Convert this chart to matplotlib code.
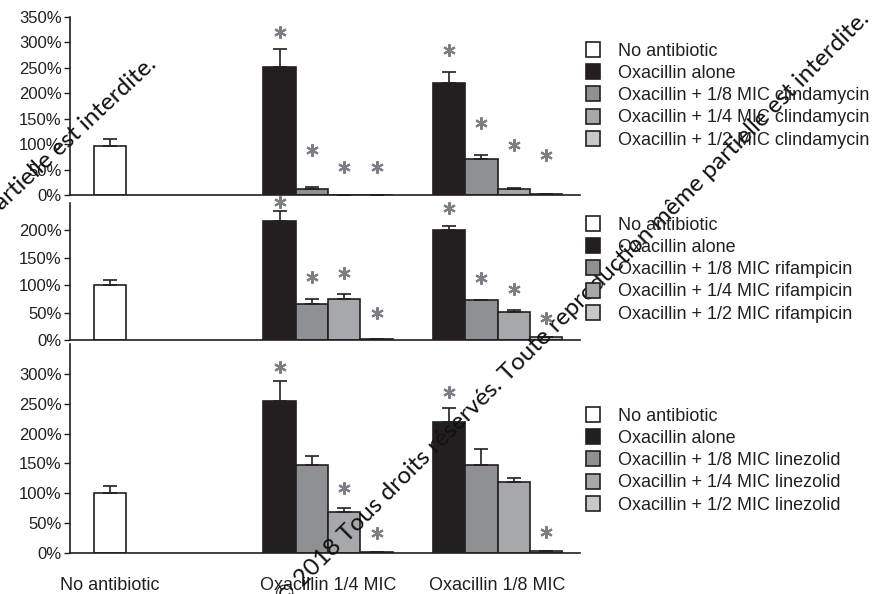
import matplotlib
matplotlib.use("Agg")
import matplotlib.pyplot as plt
from matplotlib.patches import Patch
import numpy as np

plt.rcParams['font.family'] = ['Liberation Sans', 'DejaVu Sans']

# ---------------- data ----------------
group_labels = ["No antibiotic", "Oxacillin 1/4 MIC", "Oxacillin 1/8 MIC"]
drugs = ["clindamycin", "rifampicin", "linezolid"]
series_names = ["Oxacillin alone", "Oxacillin + 1/8 MIC", "Oxacillin + 1/4 MIC", "Oxacillin + 1/2 MIC"]

# "No antibiotic" bar per panel (value, upper error)
noab_vals = [96, 100, 100]
noab_errs = [14, 10, 12]

# per panel: rows = series (alone, 1/8, 1/4, 1/2), cols = (Oxa 1/4 MIC, Oxa 1/8 MIC)
clinda_vals = [[251, 220], [12, 71], [0, 12], [0, 2]]
clinda_errs = [[36, 21], [3, 7], [0, 1], [0, 0]]
rifam_vals = [[218, 201], [66, 73], [75, 51], [2, 5]]
rifam_errs = [[18, 7], [9, 0], [9, 3], [0, 1]]
linez_vals = [[255, 219], [147, 147], [69, 119], [1, 3]]
linez_errs = [[33, 24], [15, 27], [7, 6], [0, 1]]

# significance asterisks: height (in % units) or None
clinda_stars = [[320, 285], [88, 141], [55, 98], [55, 79]]
rifam_stars = [[252, 241], [115, 113], [122, 93], [49, 40]]
linez_stars = [[312, 270], [None, None], [109, None], [34, 35]]

y_ticks = [[0, 50, 100, 150, 200, 250, 300, 350],
           [0, 50, 100, 150, 200],
           [0, 50, 100, 150, 200, 250, 300]]
y_max = [350, 250, 350]

# ---------------- style ----------------
colors = ["#ffffff", "#231f20", "#8e9093", "#a6a8ab", "#c6c8ca"]
edge = "#231f20"
star_color = "#7d7e85"
txt = "#231f20"

fig = plt.figure(figsize=(8.75, 5.94), dpi=100)
W, H = 875.0, 594.0
# axes boxes in pixels: (top, bottom)
boxes = [(17, 195), (203, 340), (344, 553)]
left_px, right_px = 70, 580

noab_x = 0.0
group_base = [5.25, 10.5]

panels = [
    (clinda_vals, clinda_errs, clinda_stars),
    (rifam_vals, rifam_errs, rifam_stars),
    (linez_vals, linez_errs, linez_stars),
]
legend_tops = [42, 216, 407]

for p, ((vals, errs, stars), (top, bot)) in enumerate(zip(panels, boxes)):
    ax = fig.add_axes([left_px / W, 1 - bot / H, (right_px - left_px) / W, (bot - top) / H])
    ax.set_facecolor("none")
    handles = []
    ax.bar([noab_x], [noab_vals[p]], width=1.0, color=colors[0], edgecolor=edge,
           linewidth=1.2, yerr=[[0], [noab_errs[p]]], capsize=5,
           error_kw=dict(ecolor=edge, elinewidth=1.2, capthick=1.2), zorder=2)
    handles.append(Patch(facecolor=colors[0], edgecolor=edge, linewidth=1.2))
    for s in range(4):
        xs = [group_base[g] + s for g in range(2)]
        ax.bar(xs, vals[s], width=1.0, color=colors[s + 1], edgecolor=edge, linewidth=1.2,
               yerr=[[0, 0], errs[s]], capsize=5,
               error_kw=dict(ecolor=edge, elinewidth=1.2, capthick=1.2), zorder=2)
        handles.append(Patch(facecolor=colors[s + 1], edgecolor=edge, linewidth=1.2))
        for g in range(2):
            if stars[s][g] is not None:
                ax.plot([xs[g]], [stars[s][g]], linestyle="none", marker=(6, 2, 0),
                        ms=9, mew=1.5, color=star_color, clip_on=False, zorder=5)
    ax.set_xlim(-1.24, 14.55)
    ax.set_ylim(0, y_max[p])
    ax.set_yticks(y_ticks[p])
    ax.set_yticklabels([f"{t}%" for t in y_ticks[p]])
    ax.tick_params(axis="y", direction="out", length=4, width=1, labelsize=12,
                   colors=txt, pad=2)
    for sp in ["top", "right"]:
        ax.spines[sp].set_visible(False)
    for sp in ["left", "bottom"]:
        ax.spines[sp].set_linewidth(1.2)
        ax.spines[sp].set_color(edge)
    if p == 2:
        ax.set_xticks([noab_x, group_base[0] + 1.5, group_base[1] + 1.5])
        ax.set_xticklabels(group_labels, fontsize=13, color=txt)
        ax.tick_params(axis="x", length=0, pad=17)
    else:
        ax.set_xticks([])

    labels = ["No antibiotic"] + [series_names[0]] + [f"{n} {drugs[p]}" for n in series_names[1:]]
    fig.legend(handles, labels, loc="upper left",
               bbox_to_anchor=(586 / W, 1 - legend_tops[p] / H),
               frameon=False, fontsize=13, handlelength=0.8, handleheight=0.9,
               handletextpad=0.95, labelspacing=0.25, borderpad=0, borderaxespad=0,
               labelcolor=txt)

# watermark text overlaid on the reference image
wm = "\u00a9 2018 Tous droits r\u00e9serv\u00e9s. Toute reproduction m\u00eame partielle est interdite."
fig.text(284 / W, 1 - 606 / H, wm, rotation=45, rotation_mode="anchor", ha="left",
         va="baseline", fontsize=17.5, family=["Lato", "DejaVu Sans"], color="#111111")
fig.text(158 / W, 1 - 66 / H, wm, rotation=43, rotation_mode="anchor", ha="right",
         va="baseline", fontsize=17.5, family=["Lato", "DejaVu Sans"], color="#111111")

fig.savefig("out.png", dpi=100)
